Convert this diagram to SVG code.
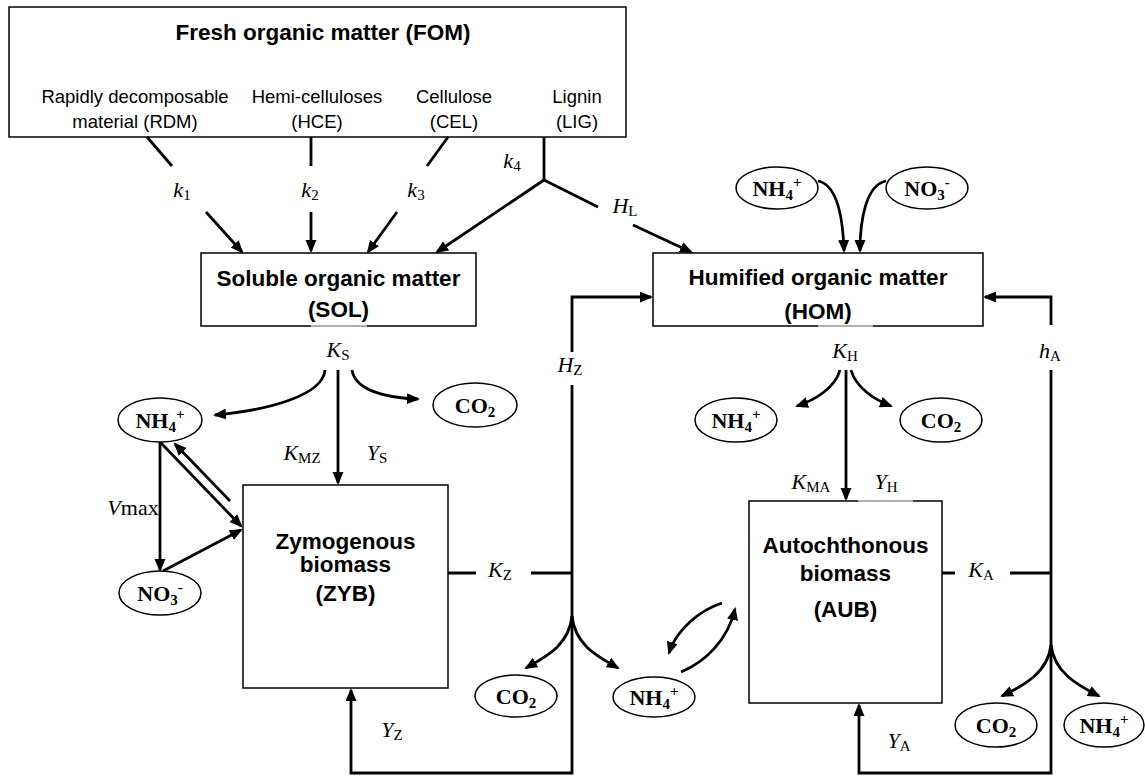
<svg xmlns="http://www.w3.org/2000/svg" width="1145" height="776" viewBox="0 0 1145 776">
<defs>
<marker id="ah" markerUnits="userSpaceOnUse" markerWidth="14" markerHeight="12" refX="11" refY="5.5" orient="auto"><path d="M0,0 L13,5.5 L0,11 z" fill="#000"/></marker>
</defs>
<style>
.box{fill:#fff;stroke:#000;stroke-width:1.5}
.ell{fill:#fff;stroke:#000;stroke-width:1.5}
.bt{font-family:"Liberation Sans",Arial,sans-serif;font-weight:bold;font-size:22.5px;text-anchor:middle}
.st{font-family:"Liberation Sans",Arial,sans-serif;font-size:18.5px;text-anchor:middle}
.et{font-family:"Liberation Serif","Times New Roman",serif;font-weight:bold;font-size:22px;text-anchor:middle}
.lb{font-family:"Liberation Serif","Times New Roman",serif;font-style:italic;font-size:22px;text-anchor:middle}
.sb{font-style:normal;font-size:15px}
.es{font-size:15px}
.c{fill:none;stroke:#000;stroke-width:2.8}
.a{fill:none;stroke:#000;stroke-width:2.8;marker-end:url(#ah)}
.gap{stroke:#d4d4d4;stroke-width:1.6}
</style>
<rect width="1145" height="776" fill="#fff"/>

<g id="fom">
<rect class="box" x="9" y="7" width="617" height="130"/>
<text class="bt" x="323" y="40">Fresh organic matter (FOM)</text>
<text class="st" x="135" y="103">Rapidly decomposable</text>
<text class="st" x="135" y="128">material (RDM)</text>
<text class="st" x="317" y="103">Hemi-celluloses</text>
<text class="st" x="317" y="128">(HCE)</text>
<text class="st" x="454" y="103">Cellulose</text>
<text class="st" x="454" y="128">(CEL)</text>
<text class="st" x="577" y="103">Lignin</text>
<text class="st" x="577" y="128">(LIG)</text>
</g>

<g id="sol">
<rect class="box" x="201" y="253" width="275" height="73"/>
<line class="gap" x1="311" y1="326" x2="367" y2="326"/>
<text class="bt" x="338.5" y="286">Soluble organic matter</text>
<text class="bt" x="338.5" y="317">(SOL)</text>
</g>

<g id="hom">
<rect class="box" x="653" y="253" width="330" height="73"/>
<line class="gap" x1="818" y1="326" x2="873" y2="326"/>
<text class="bt" x="818" y="285">Humified organic matter</text>
<text class="bt" x="818" y="319">(HOM)</text>
</g>

<g id="zyb">
<rect class="box" x="243" y="485" width="205" height="203"/>
<text class="bt" x="345.5" y="549">Zymogenous</text>
<text class="bt" x="345.5" y="572">biomass</text>
<text class="bt" x="345.5" y="601">(ZYB)</text>
</g>

<g id="aub">
<rect class="box" x="749" y="501" width="193" height="202"/>
<line class="gap" x1="858" y1="501" x2="913" y2="501"/>
<text class="bt" x="845.5" y="553">Autochthonous</text>
<text class="bt" x="845.5" y="581">biomass</text>
<text class="bt" x="845.5" y="617">(AUB)</text>
</g>

<g id="connectors">
<line class="c" x1="147" y1="137" x2="172" y2="166"/>
<line class="a" x1="206" y1="212" x2="242" y2="252"/>
<line class="c" x1="311" y1="137" x2="311" y2="166"/>
<line class="a" x1="311" y1="212" x2="311" y2="251"/>
<line class="c" x1="448" y1="137" x2="427" y2="166"/>
<line class="a" x1="397" y1="212" x2="368" y2="252"/>
<line class="c" x1="544" y1="137" x2="544" y2="180"/>
<path class="a" d="M544,180 L437,252"/>
<path class="c" d="M544,180 L598,207"/>
<path class="a" d="M633,225 L691,252"/>
<path class="a" d="M818,181 C838,185 843,220 844,251"/>
<path class="a" d="M886,181 C866,185 860,220 860,251"/>
<path class="a" d="M325,370 C323,395 270,410 215,415"/>
<path class="a" d="M338,370 L338,483"/>
<path class="a" d="M352,370 C355,390 385,398 418,399"/>
<path class="a" d="M160,442 L160,570"/>
<path class="a" d="M161,443 L241,526"/>
<path class="a" d="M230,501 L175,444"/>
<path class="a" d="M163,571 L241,530"/>
<path class="a" d="M572,352 L572,297 L651,297"/>
<path class="a" d="M572,385 L572,773 L351,773 L351,690"/>
<path class="c" d="M448,573 L476,573 M531,573 L572,573"/>
<path class="a" d="M572,616 C569,645 547,656 526,668"/>
<path class="a" d="M572,616 C575,645 597,656 618,668"/>
<path class="a" d="M840,370 C835,388 815,400 797,406"/>
<path class="a" d="M846,370 L846,499"/>
<path class="a" d="M851,370 C856,388 875,400 891,406"/>
<path class="a" d="M1051,325 L1051,297 L985,297"/>
<path class="a" d="M1051,370 L1051,773 L859,773 L859,705"/>
<path class="c" d="M942,573 L955,573 M1010,573 L1051,573"/>
<path class="a" d="M1051,645 C1048,672 1025,685 1002,696"/>
<path class="a" d="M1051,645 C1054,672 1077,685 1099,696"/>
<path class="a" d="M722,603 C700,610 676,630 669,653"/>
<path class="a" d="M681,672 C705,662 728,640 735,609"/>
</g>

<g id="labels">
<text class="lb" x="182" y="197">k<tspan class="sb" dy="3">1</tspan></text>
<text class="lb" x="310" y="197">k<tspan class="sb" dy="3">2</tspan></text>
<text class="lb" x="416" y="197">k<tspan class="sb" dy="3">3</tspan></text>
<text class="lb" x="512" y="168">k<tspan class="sb" dy="3">4</tspan></text>
<text class="lb" x="625" y="213">H<tspan class="sb" dy="3">L</tspan></text>
<text class="lb" x="338" y="357">K<tspan class="sb" dy="3">S</tspan></text>
<text class="lb" x="302" y="460">K<tspan class="sb" dy="3">MZ</tspan></text>
<text class="lb" x="377" y="460">Y<tspan class="sb" dy="3">S</tspan></text>
<text class="lb" x="133" y="515">V<tspan style="font-style:normal">max</tspan></text>
<text class="lb" x="570" y="372">H<tspan class="sb" dy="3">Z</tspan></text>
<text class="lb" x="500" y="577">K<tspan class="sb" dy="3">Z</tspan></text>
<text class="lb" x="845" y="358">K<tspan class="sb" dy="3">H</tspan></text>
<text class="lb" x="1050" y="358">h<tspan class="sb" dy="3">A</tspan></text>
<text class="lb" x="811" y="489">K<tspan class="sb" dy="3">MA</tspan></text>
<text class="lb" x="886" y="489">Y<tspan class="sb" dy="3">H</tspan></text>
<text class="lb" x="981" y="577">K<tspan class="sb" dy="3">A</tspan></text>
<text class="lb" x="392" y="737">Y<tspan class="sb" dy="3">Z</tspan></text>
<text class="lb" x="899" y="748">Y<tspan class="sb" dy="3">A</tspan></text>
</g>

<g id="nh4-top"><ellipse class="ell" cx="777" cy="188" rx="41" ry="21"/><text class="et" x="777" y="196">NH<tspan class="es" dy="4">4</tspan><tspan class="es" dy="-13">+</tspan></text></g>
<g id="no3-top"><ellipse class="ell" cx="927" cy="188" rx="41" ry="21"/><text class="et" x="927" y="196">NO<tspan class="es" dy="4">3</tspan><tspan class="es" dy="-13">-</tspan></text></g>
<g id="nh4-sol"><ellipse class="ell" cx="160" cy="420" rx="42" ry="22"/><text class="et" x="160" y="428">NH<tspan class="es" dy="4">4</tspan><tspan class="es" dy="-13">+</tspan></text></g>
<g id="no3-sol"><ellipse class="ell" cx="160" cy="593" rx="41" ry="22"/><text class="et" x="160" y="601">NO<tspan class="es" dy="4">3</tspan><tspan class="es" dy="-13">-</tspan></text></g>
<g id="co2-sol"><ellipse class="ell" cx="475" cy="405" rx="42" ry="22"/><text class="et" x="475" y="413">CO<tspan class="es" dy="4">2</tspan></text></g>
<g id="nh4-hom"><ellipse class="ell" cx="736" cy="420" rx="41" ry="22"/><text class="et" x="736" y="428">NH<tspan class="es" dy="4">4</tspan><tspan class="es" dy="-13">+</tspan></text></g>
<g id="co2-hom"><ellipse class="ell" cx="941" cy="420" rx="41" ry="22"/><text class="et" x="941" y="428">CO<tspan class="es" dy="4">2</tspan></text></g>
<g id="co2-zyb"><ellipse class="ell" cx="516" cy="696" rx="41" ry="21"/><text class="et" x="516" y="704">CO<tspan class="es" dy="4">2</tspan></text></g>
<g id="nh4-mid"><ellipse class="ell" cx="654" cy="697" rx="41" ry="20"/><text class="et" x="654" y="705">NH<tspan class="es" dy="4">4</tspan><tspan class="es" dy="-13">+</tspan></text></g>
<g id="co2-aub"><ellipse class="ell" cx="996" cy="725" rx="41" ry="22"/><text class="et" x="996" y="733">CO<tspan class="es" dy="4">2</tspan></text></g>
<g id="nh4-aub"><ellipse class="ell" cx="1104" cy="725" rx="40" ry="22"/><text class="et" x="1104" y="733">NH<tspan class="es" dy="4">4</tspan><tspan class="es" dy="-13">+</tspan></text></g>
</svg>
